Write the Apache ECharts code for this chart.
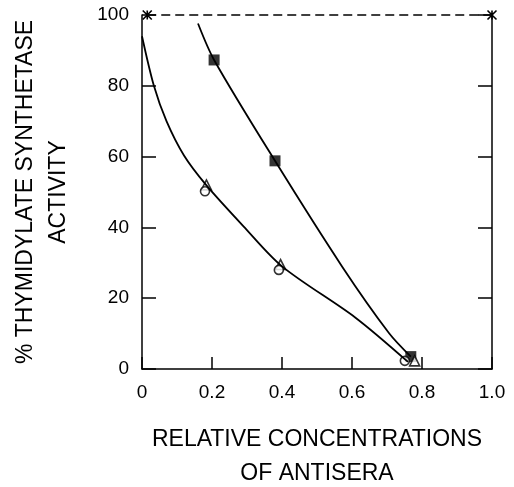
<!DOCTYPE html>
<html>
<head>
<meta charset="utf-8">
<script src="https://cdn.jsdelivr.net/npm/echarts@6/dist/echarts.min.js"></script>
<style>
  html, body { margin: 0; padding: 0; background: #fff; }
  #chart { width: 514px; height: 487px; }
</style>
</head>
<body>
<div id="chart"></div>
<script>
// 数据
var xTicks = [0, 0.2, 0.4, 0.6, 0.8, 1.0];
var xTickLabels = ['0', '0.2', '0.4', '0.6', '0.8', '1.0'];
var yTickLabels = ['0', '20', '40', '60', '80', '100'];

// 对照（无抗血清）
var controlPts = [[0.015, 100], [1.0, 100]];
// 实心方块
var squarePts = [[0.206, 87.3], [0.38, 58.8], [0.768, 3.5]];
// 空心三角
var trianglePts = [[0.184, 52], [0.396, 29.5], [0.779, 2.3]];
// 空心圆
var circlePts = [[0.18, 50.2], [0.391, 28], [0.751, 2.3]];
// 拟合曲线（沿图中曲线读点）
var upperCurve = [[0.16, 97.6], [0.206, 87.3], [0.38, 58.8], [0.572, 28.9], [0.706, 10.1], [0.768, 3.5]];
var lowerCurve = [[0.0, 94], [0.034, 80], [0.07, 70], [0.12, 60.3], [0.183, 52], [0.29, 40.3],
                  [0.40, 29], [0.61, 14.5], [0.76, 2]];

var FONT = "'Liberation Sans', Arial, sans-serif";

function initChart() {
    var myChart = echarts.init(document.getElementById('chart'));

    var axisLineStyle = { color: '#000', width: 1.5 };

    var option = {
        animation: false,
        backgroundColor: '#fff',
        grid: {
            left: 142,
            right: 22,
            top: 15,
            bottom: 118,
            containLabel: false,
            outerBoundsMode: 'none'
        },
        xAxis: {
            type: 'value',
            min: 0,
            max: 1,
            interval: 0.2,
            name: 'RELATIVE CONCENTRATIONS\nOF ANTISERA',
            nameLocation: 'middle',
            nameGap: 54,
            nameTextStyle: {
                fontFamily: FONT,
                fontSize: 23,
                color: '#000',
                lineHeight: 34
            },
            axisLine: { lineStyle: axisLineStyle },
            axisTick: {
                inside: true,
                length: 12,
                lineStyle: axisLineStyle
            },
            splitLine: { show: false },
            axisLabel: {
                margin: 14,
                fontFamily: FONT,
                fontSize: 19,
                color: '#000',
                formatter: function (v) {
                    var i = xTicks.indexOf(Math.round(v * 10) / 10);
                    return i >= 0 ? xTickLabels[i] : '';
                }
            }
        },
        yAxis: [
            {
                type: 'value',
                min: 0,
                max: 100,
                interval: 20,
                name: '% THYMIDYLATE SYNTHETASE\nACTIVITY',
                nameLocation: 'middle',
                nameGap: 67,
                nameTextStyle: {
                    fontFamily: FONT,
                    fontSize: 23,
                    color: '#000',
                    lineHeight: 33
                },
                axisLine: { show: true, lineStyle: axisLineStyle },
                axisTick: {
                    show: true,
                    inside: true,
                    length: 14,
                    lineStyle: axisLineStyle
                },
                splitLine: { show: false },
                axisLabel: {
                    margin: 13,
                    fontFamily: FONT,
                    fontSize: 19,
                    color: '#000',
                    formatter: function (v) {
                        return yTickLabels[Math.round(v / 20)];
                    }
                }
            },
            {
                type: 'value',
                position: 'right',
                min: 0,
                max: 100,
                interval: 20,
                axisLine: { show: true, lineStyle: axisLineStyle },
                axisTick: {
                    show: true,
                    inside: true,
                    length: 14,
                    lineStyle: axisLineStyle
                },
                axisLabel: { show: false },
                splitLine: { show: false }
            }
        ],
        series: [
            {
                name: 'upper',
                type: 'line',
                data: upperCurve,
                smooth: 0.3,
                showSymbol: false,
                symbol: 'none',
                clip: false,
                lineStyle: { color: '#000', width: 1.8 }
            },
            {
                name: 'lower',
                type: 'line',
                data: lowerCurve,
                smooth: 0.3,
                showSymbol: false,
                symbol: 'none',
                clip: false,
                lineStyle: { color: '#000', width: 1.8 }
            },
            {
                name: 'control',
                type: 'line',
                data: controlPts,
                clip: false,
                symbol: 'path://M0,0L10,10M10,0L0,10M5,0L5,10',
                symbolSize: 9,
                itemStyle: { color: '#000', borderColor: '#000', borderWidth: 1.6 },
                lineStyle: { color: '#000', width: 1.6, type: [9, 5] }
            },
            {
                name: 'square',
                type: 'scatter',
                data: squarePts,
                clip: false,
                symbol: 'rect',
                symbolSize: 11,
                itemStyle: { color: '#000' }
            },
            {
                name: 'triangle',
                type: 'scatter',
                data: trianglePts,
                clip: false,
                symbol: 'triangle',
                symbolSize: 10,
                itemStyle: { color: '#fff', borderColor: '#000', borderWidth: 1.6 }
            },
            {
                name: 'circle',
                type: 'scatter',
                data: circlePts,
                clip: false,
                symbol: 'circle',
                symbolSize: 9,
                itemStyle: { color: '#fff', borderColor: '#000', borderWidth: 1.6 }
            }
        ]
    };

    myChart.setOption(option);
}

initChart();
</script>
</body>
</html>
